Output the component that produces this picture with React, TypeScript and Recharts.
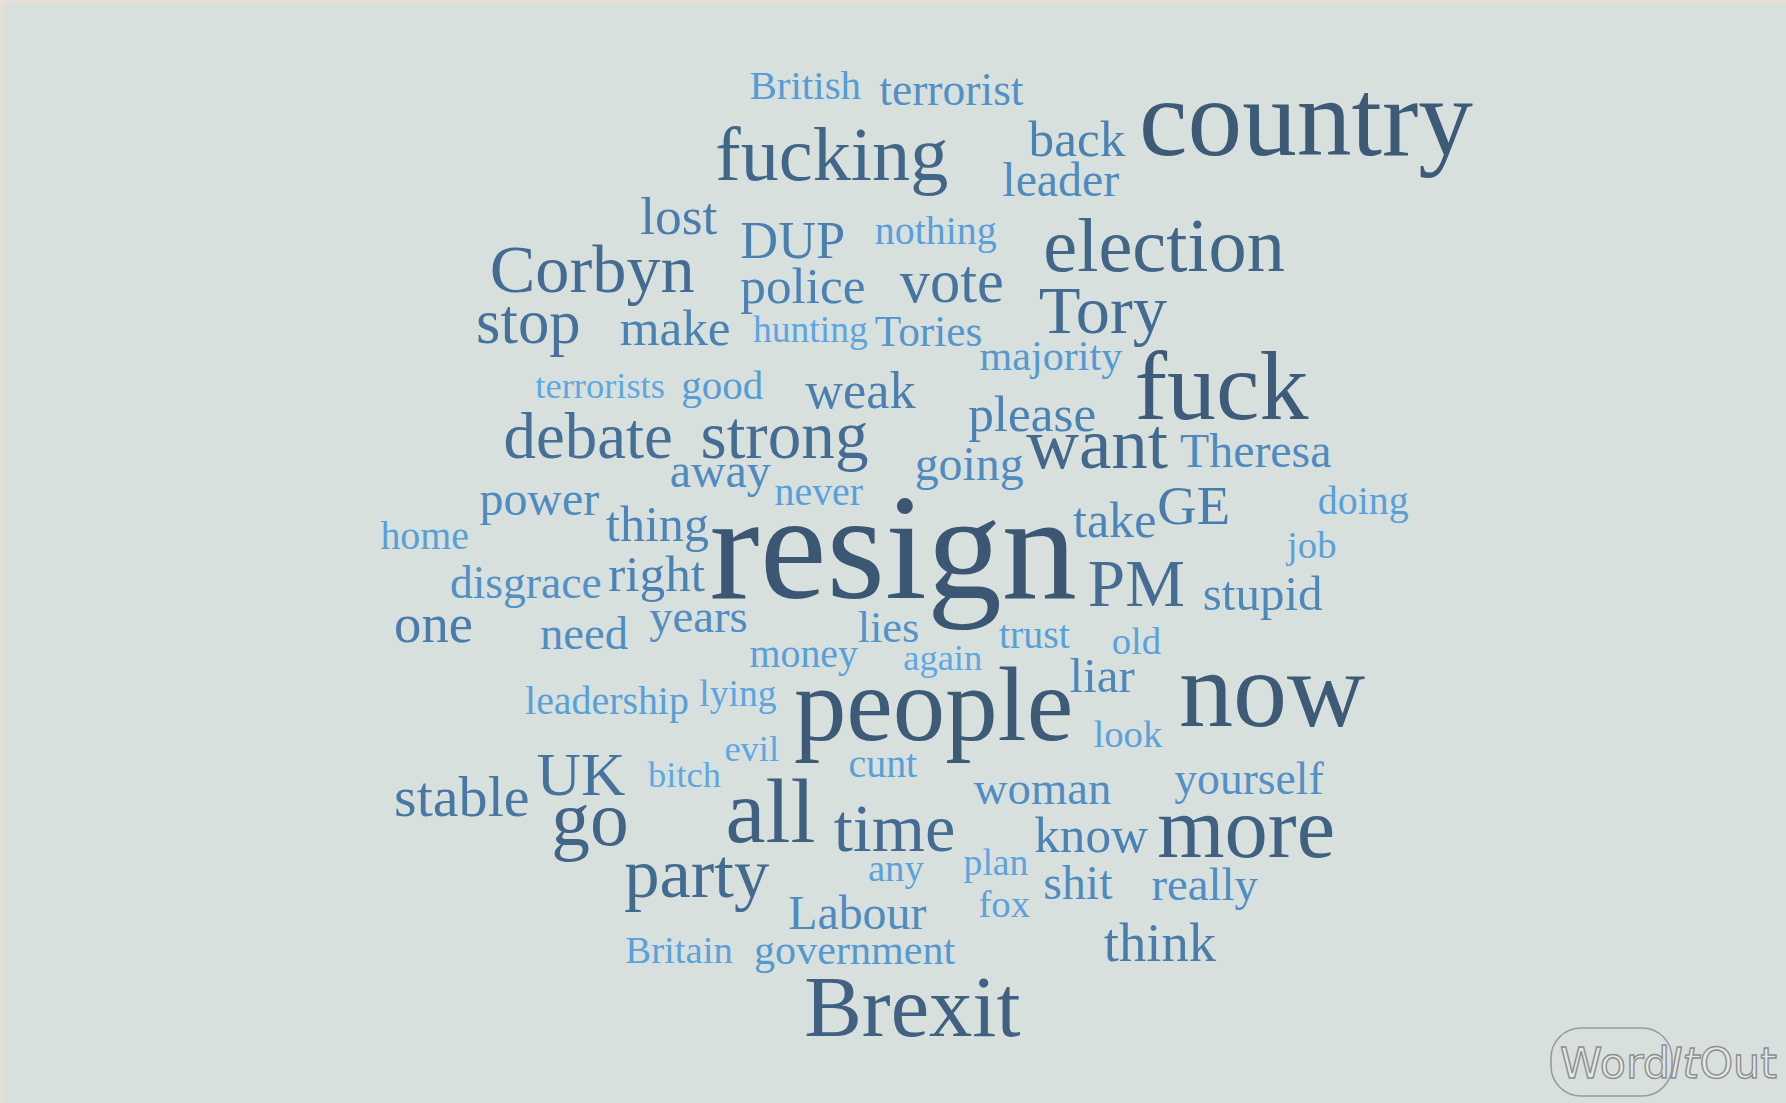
import React from "react";
import { ScatterChart, Scatter, XAxis, YAxis, Customized } from "recharts";

// Word cloud data: word, layout position (cloud units), weight (relative frequency)
const WORDS = [
  "British", "terrorist", "fucking", "back", "country", "leader", "lost", "DUP", "nothing", "election",
  "Corbyn", "police", "vote", "Tory", "stop", "make", "hunting", "Tories", "majority", "fuck",
  "terrorists", "good", "weak", "please", "debate", "strong", "want", "Theresa", "away", "going",
  "never", "power", "home", "thing", "resign", "take", "GE", "doing", "job", "disgrace",
  "right", "PM", "stupid", "one", "need", "years", "lies", "trust", "old", "money",
  "again", "liar", "now", "leadership", "lying", "people", "look", "evil", "UK", "cunt",
  "bitch", "stable", "woman", "yourself", "go", "all", "time", "more", "know", "party",
  "any", "plan", "shit", "really", "fox", "Labour", "think", "Britain", "government", "Brexit",
];
const POS_X = [
  658, 772, 628, 903, 1000, 880, 562, 650, 768, 916,
  430, 650, 790, 912, 418, 544, 661, 768, 860, 996,
  470, 598, 707, 850, 442, 615, 901, 1036, 588, 803,
  680, 421, 334, 532, 623, 942, 1016, 1157, 1130, 395,
  534, 955, 1056, 346, 474, 570, 753, 877, 976, 658,
  793, 939, 1035, 461, 614, 697, 960, 636, 471, 745,
  569, 346, 855, 1031, 484, 637, 732, 1016, 908, 548,
  762, 846, 916, 1011, 859, 692, 969, 549, 662, 706,
];
const POS_Y = [
  87, 92, 158, 137, 136, 172, 205, 226, 214, 238,
  256, 266, 265, 292, 301, 303, 300, 304, 325, 368,
  349, 350, 358, 378, 402, 402, 411, 410, 427, 421,
  443, 452, 482, 475, 525, 471, 460, 451, 490, 525,
  519, 532, 535, 563, 570, 555, 563, 569, 574, 585,
  588, 607, 637, 627, 620, 649, 656, 668, 698, 682,
  691, 716, 706, 697, 742, 739, 747, 752, 748, 787,
  773, 768, 789, 790, 805, 815, 843, 845, 846, 909,
];
const WEIGHT = [
  36, 40, 67, 45, 96, 42, 47, 46, 35, 67,
  60, 45, 53, 60, 55, 45, 33, 38, 37, 86,
  32, 36, 46, 45, 57, 59, 64, 42, 42, 42,
  35, 42, 35, 44, 132, 44, 48, 35, 34, 40,
  45, 59, 43, 48, 41, 41, 39, 35, 34, 35,
  32, 43, 95, 35, 33, 92, 34, 32, 54, 35,
  32, 51, 41, 40, 68, 79, 60, 76, 45, 62,
  34, 33, 42, 41, 34, 42, 48, 34, 37, 76,
];

const CLOUD_W = 1568;
const CLOUD_H = 968;
const CHART_W = 1786;
const CHART_H = 1103;
const SCALE = CHART_W / CLOUD_W;

const data = WORDS.map((w, i) => ({ word: w, x: POS_X[i], y: POS_Y[i], weight: WEIGHT[i] }));

const STOPS: [number, number[]][] = [
  [32, [0x5e, 0xa8, 0xe2]],
  [38, [0x54, 0x96, 0xcd]],
  [46, [0x4a, 0x7f, 0xb0]],
  [55, [0x46, 0x71, 0x9a]],
  [66, [0x42, 0x66, 0x88]],
  [90, [0x3d, 0x5a, 0x77]],
  [140, [0x3c, 0x57, 0x72]],
];

function rgb(c: number[]): string {
  return `rgb(${c.map((v) => Math.round(v)).join(",")})`;
}
function colorFor(w: number): string {
  if (w <= STOPS[0][0]) return rgb(STOPS[0][1]);
  for (let i = 1; i < STOPS.length; i++) {
    if (w <= STOPS[i][0]) {
      const [a, ca] = STOPS[i - 1];
      const [b, cb] = STOPS[i];
      const t = (w - a) / (b - a);
      return rgb(ca.map((v, k) => v + (cb[k] - v) * t));
    }
  }
  return rgb(STOPS[STOPS.length - 1][1]);
}

const WordShape = (props: any) => {
  const { cx, cy, payload } = props;
  if (cx == null || cy == null) return null;
  return (
    <text
      x={cx}
      y={cy}
      fontSize={payload.weight * SCALE}
      fontFamily="'Liberation Serif', 'Times New Roman', serif"
      fill={colorFor(payload.weight)}
      textAnchor="start"
    >
      {payload.word}
    </text>
  );
};

const Logo = () => (
  <g>
    <rect x={1551} y={1028} width={121} height={68} rx={30} ry={30} fill="none" stroke="#9a9a9a" strokeWidth={1.6} />
    <text
      x={1560}
      y={1078}
      fontSize={42}
      fontFamily="'DejaVu Sans', sans-serif"
      fill="#e4e8e6"
      stroke="#8e8e8e"
      strokeWidth={1.4}
      textLength={217}
      lengthAdjust="spacingAndGlyphs"
    >
      Word
      <tspan fontStyle="italic">It</tspan>
      Out
    </text>
  </g>
);

export default function App() {
  return (
    <div style={{ width: CHART_W, height: CHART_H, background: "#e6e0d6", position: "relative", overflow: "hidden" }}>
      <style>{"body{margin:0;}"}</style>
      <div style={{ position: "absolute", left: 3, top: 3, right: 0, bottom: 0, background: "#d8e0de" }} />
      <div style={{ position: "absolute", left: 0, top: 0 }}>
        <ScatterChart width={CHART_W} height={CHART_H} margin={{ top: 0, right: 0, bottom: 0, left: 0 }}>
          <XAxis type="number" dataKey="x" domain={[0, CLOUD_W]} hide />
          <YAxis type="number" dataKey="y" domain={[0, CLOUD_H]} reversed hide width={0} />
          <Scatter data={data} shape={WordShape} isAnimationActive={false} />
          <Customized component={Logo} />
        </ScatterChart>
      </div>
    </div>
  );
}
